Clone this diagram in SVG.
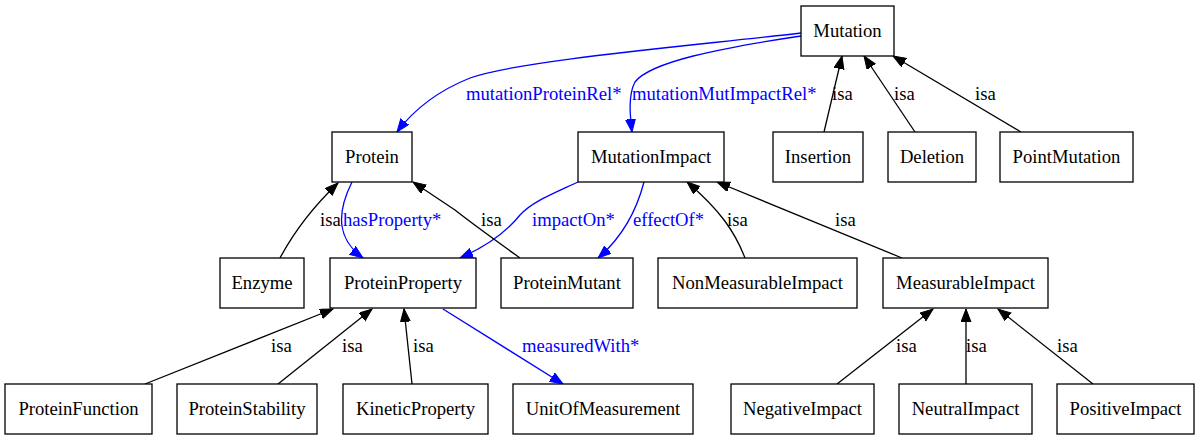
<svg xmlns="http://www.w3.org/2000/svg" width="1200" height="441" viewBox="0 0 1200 441" font-family="'Liberation Serif', 'Times New Roman', Times, serif" font-size="18.67">
<defs>
<style>
.node rect{fill:#fff;stroke:#000;stroke-width:1.3}
.node text{text-anchor:middle;fill:#000}
.e{fill:none;stroke-width:1.3}
.isa{stroke:#000}
.rel{stroke:#0000ff}
.lisa{fill:#000}
.lrel{fill:#0000ff}
</style>
<marker id="ab" markerUnits="userSpaceOnUse" markerWidth="14" markerHeight="11" refX="13" refY="5" orient="auto"><path d="M0,0 L13,5 L0,10 z" fill="#000" stroke="#000"/></marker>
<marker id="ar" markerUnits="userSpaceOnUse" markerWidth="14" markerHeight="11" refX="13" refY="5" orient="auto"><path d="M0,0 L13,5 L0,10 z" fill="#0000ff" stroke="#0000ff"/></marker>
</defs>
<rect width="1200" height="441" fill="#fff"/>
<g id="connectors">
<path class="e rel" marker-end="url(#ar)" d="M801,33 C700,45 520,60 470,78 C440,90 415,108 397,132"/>
<path class="e rel" marker-end="url(#ar)" d="M801,36 C720,48 650,62 635,82 C628,95 630,115 632,132"/>
<path class="e rel" marker-end="url(#ar)" d="M352,182 C344,198 340,212 342,226 C344,240 352,250 363,258"/>
<path class="e rel" marker-end="url(#ar)" d="M578,182 C550,195 532,202 520,215 C508,230 490,245 460,258"/>
<path class="e rel" marker-end="url(#ar)" d="M644,182 C638,205 625,235 598,258"/>
<path class="e rel" marker-end="url(#ar)" d="M443,309 L563,384"/>
<path class="e isa" marker-end="url(#ab)" d="M824,132 L842,56"/>
<path class="e isa" marker-end="url(#ab)" d="M915,132 L864,56"/>
<path class="e isa" marker-end="url(#ab)" d="M1021,132 L893,56"/>
<path class="e isa" marker-end="url(#ab)" d="M280,258 C295,230 315,205 338,183"/>
<path class="e isa" marker-end="url(#ab)" d="M520,258 C495,240 470,222 455,210 C440,200 428,192 413,182"/>
<path class="e isa" marker-end="url(#ab)" d="M745,258 C735,232 720,210 687,182"/>
<path class="e isa" marker-end="url(#ab)" d="M902,258 L717,182"/>
<path class="e isa" marker-end="url(#ab)" d="M145,384 L333,309"/>
<path class="e isa" marker-end="url(#ab)" d="M278,384 L372,309"/>
<path class="e isa" marker-end="url(#ab)" d="M412,384 L404,309"/>
<path class="e isa" marker-end="url(#ab)" d="M837,384 L933,309"/>
<path class="e isa" marker-end="url(#ab)" d="M966,384 L966,309"/>
<path class="e isa" marker-end="url(#ab)" d="M1093,384 L998,309"/>
<text class="lrel" x="466" y="100">mutationProteinRel*</text>
<text class="lrel" x="632" y="100">mutationMutImpactRel*</text>
<text class="lisa" x="832" y="100">isa</text>
<text class="lisa" x="894" y="100">isa</text>
<text class="lisa" x="975" y="100">isa</text>
<text class="lisa" x="320" y="226">isa</text>
<text class="lrel" x="343" y="226">hasProperty*</text>
<text class="lisa" x="481" y="226">isa</text>
<text class="lrel" x="532" y="226">impactOn*</text>
<text class="lrel" x="633" y="226">effectOf*</text>
<text class="lisa" x="727" y="226">isa</text>
<text class="lisa" x="835" y="226">isa</text>
<text class="lisa" x="271" y="352">isa</text>
<text class="lisa" x="342" y="352">isa</text>
<text class="lisa" x="413" y="352">isa</text>
<text class="lrel" x="522" y="352">measuredWith*</text>
<text class="lisa" x="896" y="352">isa</text>
<text class="lisa" x="966" y="352">isa</text>
<text class="lisa" x="1057" y="352">isa</text>
</g>
<g id="Mutation" class="node"><rect x="801" y="6" width="93" height="50"/><text x="847.5" y="37">Mutation</text></g>
<g id="Protein" class="node"><rect x="332" y="132" width="80" height="50"/><text x="372" y="163">Protein</text></g>
<g id="MutationImpact" class="node"><rect x="578" y="132" width="146" height="50"/><text x="651" y="163">MutationImpact</text></g>
<g id="Insertion" class="node"><rect x="773" y="132" width="90" height="50"/><text x="818" y="163">Insertion</text></g>
<g id="Deletion" class="node"><rect x="888" y="132" width="88" height="50"/><text x="932" y="163">Deletion</text></g>
<g id="PointMutation" class="node"><rect x="1000" y="132" width="133" height="50"/><text x="1066.5" y="163">PointMutation</text></g>
<g id="Enzyme" class="node"><rect x="220" y="258" width="84" height="50"/><text x="262" y="289">Enzyme</text></g>
<g id="ProteinProperty" class="node"><rect x="330" y="258" width="146" height="50"/><text x="403" y="289">ProteinProperty</text></g>
<g id="ProteinMutant" class="node"><rect x="501" y="258" width="132" height="50"/><text x="567" y="289">ProteinMutant</text></g>
<g id="NonMeasurableImpact" class="node"><rect x="658" y="258" width="199" height="50"/><text x="757.5" y="289">NonMeasurableImpact</text></g>
<g id="MeasurableImpact" class="node"><rect x="883" y="258" width="165" height="50"/><text x="965.5" y="289">MeasurableImpact</text></g>
<g id="ProteinFunction" class="node"><rect x="5" y="384" width="147" height="50"/><text x="78.5" y="415">ProteinFunction</text></g>
<g id="ProteinStability" class="node"><rect x="177" y="384" width="140" height="50"/><text x="247" y="415">ProteinStability</text></g>
<g id="KineticProperty" class="node"><rect x="343" y="384" width="145" height="50"/><text x="415.5" y="415">KineticProperty</text></g>
<g id="UnitOfMeasurement" class="node"><rect x="513" y="384" width="180" height="50"/><text x="603" y="415">UnitOfMeasurement</text></g>
<g id="NegativeImpact" class="node"><rect x="731" y="384" width="143" height="50"/><text x="802.5" y="415">NegativeImpact</text></g>
<g id="NeutralImpact" class="node"><rect x="899" y="384" width="133" height="50"/><text x="965.5" y="415">NeutralImpact</text></g>
<g id="PositiveImpact" class="node"><rect x="1057" y="384" width="137" height="50"/><text x="1125.5" y="415">PositiveImpact</text></g>
</svg>
